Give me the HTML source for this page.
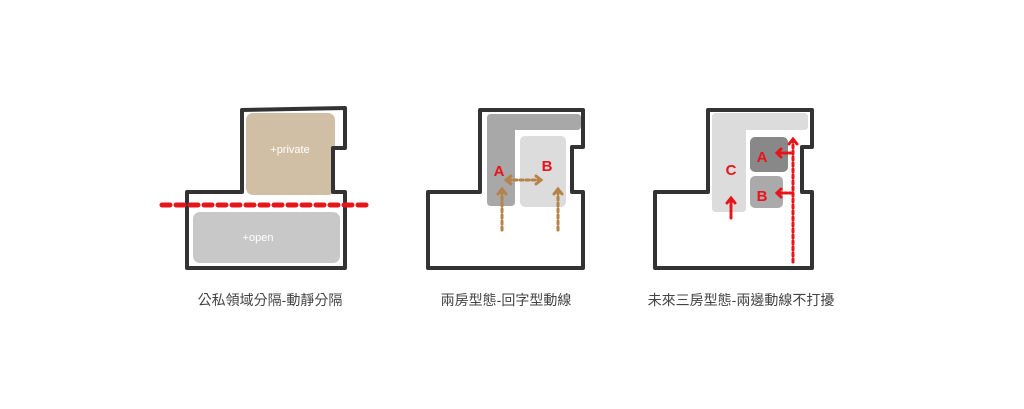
<!DOCTYPE html>
<html><head><meta charset="utf-8"><style>
html,body{margin:0;padding:0;background:#fff;}
svg{display:block}
text{font-family:"Liberation Sans","Noto Sans CJK TC",sans-serif;}
</style></head><body>
<svg width="1024" height="409" viewBox="0 0 1024 409" xmlns="http://www.w3.org/2000/svg">
<rect width="1024" height="409" fill="#fff"/>
<!-- Diagram 1 -->
<rect x="246" y="113" width="89" height="82" rx="7" fill="#d1bfa5"/>
<rect x="193" y="212" width="147" height="51" rx="7" fill="#c8c8c8"/>
<polygon points="242,110 345,108 345,148 333,148 333,192 345,192 345,268 187,268 187,192 242,192" fill="none" stroke="#333" stroke-width="4" stroke-linejoin="round"/>
<line x1="162" y1="205" x2="368" y2="205" stroke="#e8141a" stroke-width="5" stroke-dasharray="8,6" stroke-linecap="round"/>
<text x="290" y="153" font-size="11" fill="#fff" text-anchor="middle">+private</text>
<text x="258" y="241" font-size="11" fill="#fff" text-anchor="middle">+open</text>
<!-- Diagram 2 -->
<path d="M491,114 H577 Q581,114 581,118 V126 Q581,130 577,130 H515 V202 Q515,206 511,206 H491 Q487,206 487,202 V118 Q487,114 491,114Z" fill="#a8a8a8"/>
<rect x="520" y="136" width="46" height="71" rx="5" fill="#dcdcdc"/>
<polygon points="480,110 583,110 583,147 572,147 572,192 583,192 583,268 428,268 428,192 480,192" fill="none" stroke="#333" stroke-width="4" stroke-linejoin="round"/>
<text x="499" y="176" font-size="15" font-weight="bold" fill="#e8141a" text-anchor="middle">A</text>
<text x="547" y="171" font-size="15" font-weight="bold" fill="#e8141a" text-anchor="middle">B</text>
<g stroke="#b5834a" stroke-width="3" fill="none" stroke-linecap="round">
<line x1="508" y1="180" x2="539" y2="180" stroke-dasharray="3,3"/>
<polyline points="511,176 506,180 511,184"/><polyline points="536,176 541,180 536,184"/>
<line x1="502" y1="230" x2="502" y2="191" stroke-dasharray="3,3"/>
<polyline points="498,194 502,189 506,194"/>
<line x1="558" y1="230" x2="558" y2="191" stroke-dasharray="3,3"/>
<polyline points="554,194 558,189 562,194"/>
</g>
<!-- Diagram 3 -->
<path d="M716,113 H804 Q808,113 808,117 V126 Q808,130 804,130 H746 V208 Q746,212 742,212 H716 Q712,212 712,208 V117 Q712,113 716,113Z" fill="#dcdcdc"/>
<rect x="750" y="137" width="38" height="35" rx="5" fill="#888"/>
<rect x="750" y="176" width="33" height="32" rx="5" fill="#aaa"/>
<polygon points="708,110 812,110 812,147 802,147 802,192 812,192 812,268 655,268 655,192 708,192" fill="none" stroke="#333" stroke-width="4" stroke-linejoin="round"/>
<text x="762" y="162" font-size="15" font-weight="bold" fill="#e8141a" text-anchor="middle">A</text>
<text x="762" y="201" font-size="15" font-weight="bold" fill="#e8141a" text-anchor="middle">B</text>
<text x="731" y="175" font-size="15" font-weight="bold" fill="#e8141a" text-anchor="middle">C</text>
<g stroke="#e8141a" stroke-width="3" fill="none" stroke-linecap="round">
<line x1="793" y1="262" x2="793" y2="141" stroke-dasharray="3,3"/>
<polyline points="789,144 793,139 797,144"/>
<line x1="792" y1="153" x2="778" y2="153" stroke-dasharray="3,2"/>
<polyline points="781,149 777,153 781,157"/>
<line x1="792" y1="193" x2="778" y2="193" stroke-dasharray="3,2"/>
<polyline points="781,189 777,193 781,197"/>
<line x1="731" y1="218" x2="731" y2="200" stroke-dasharray="3,2"/>
<polyline points="727,203 731,198 735,203"/>
</g>
<text x="270" y="305" font-size="14" fill="#444" text-anchor="middle">公私領域分隔-動靜分隔</text>
<text x="506" y="305" font-size="14" fill="#444" text-anchor="middle">兩房型態-回字型動線</text>
<text x="741" y="305" font-size="14" fill="#444" text-anchor="middle">未來三房型態-兩邊動線不打擾</text>
</svg>
</body></html>
